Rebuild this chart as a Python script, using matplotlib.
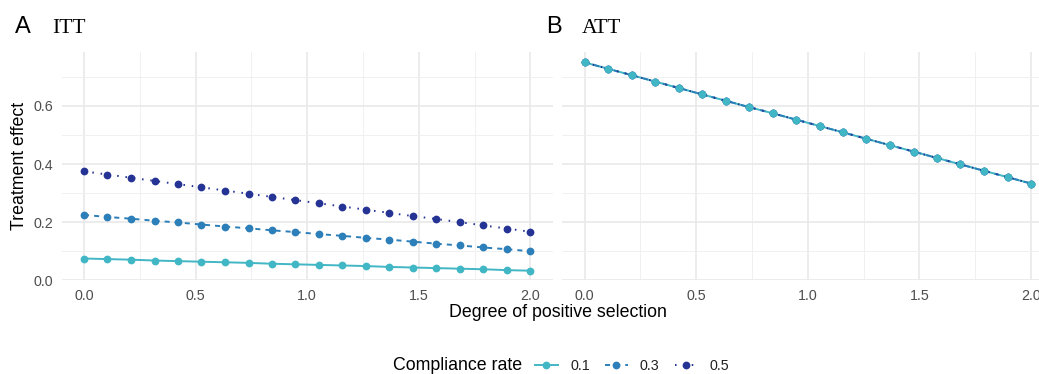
import matplotlib
matplotlib.use("Agg")
import matplotlib.pyplot as plt
from matplotlib.lines import Line2D
from matplotlib.ticker import MultipleLocator

plt.rcParams["font.family"] = ["Liberation Sans", "DejaVu Sans"]

# grau de selecao positiva (20 pontos de 0 a 2)
selecao = [0.000, 0.105, 0.211, 0.316, 0.421, 0.526, 0.632, 0.737, 0.842, 0.947,
           1.053, 1.158, 1.263, 1.368, 1.474, 1.579, 1.684, 1.789, 1.895, 2.000]

# ITT por taxa de adesao
itt_01 = [0.075, 0.073, 0.071, 0.068, 0.066, 0.064, 0.062, 0.060, 0.057, 0.055,
          0.053, 0.051, 0.049, 0.046, 0.044, 0.042, 0.040, 0.038, 0.035, 0.033]
itt_03 = [0.225, 0.218, 0.212, 0.205, 0.199, 0.192, 0.185, 0.179, 0.172, 0.166,
          0.159, 0.153, 0.146, 0.140, 0.133, 0.126, 0.120, 0.113, 0.107, 0.100]
itt_05 = [0.375, 0.364, 0.353, 0.342, 0.331, 0.320, 0.309, 0.298, 0.287, 0.276,
          0.265, 0.254, 0.243, 0.232, 0.221, 0.211, 0.200, 0.189, 0.178, 0.167]

# ATT (igual para todas as taxas)
att = [0.750, 0.728, 0.706, 0.684, 0.662, 0.640, 0.618, 0.596, 0.575, 0.553,
       0.531, 0.509, 0.487, 0.465, 0.443, 0.421, 0.399, 0.377, 0.355, 0.333]

taxas = ["0.1", "0.3", "0.5"]
cores = ["#41b6c4", "#2c7fb8", "#253494"]
estilos = ["-", (0, (2.6, 2.6)), (0, (0.8, 3.5))]

W, H = 1039, 374
fig = plt.figure(figsize=(W / 100, H / 100), dpi=100)

def px(x0, y0, x1, y1):
    return [x0 / W, 1 - y1 / H, (x1 - x0) / W, (y1 - y0) / H]

axA = fig.add_axes(px(61.7, 51.5, 552.7, 280.3))
axB = fig.add_axes(px(562.3, 51.5, 1053.3, 280.3))

def desenha(ax, series):
    for s, c, ls in zip(series, cores, estilos):
        ax.plot(selecao, s, color=c, linestyle=ls, linewidth=1.4, zorder=3)
    for s, c in reversed(list(zip(series, cores))):
        ax.plot(selecao, s, linestyle="none", marker="o", markersize=5.6,
                markeredgewidth=0, color=c, zorder=4)

    ax.set_xlim(-0.1, 2.1)
    ax.set_ylim(0, 0.7875)
    ax.xaxis.set_major_locator(MultipleLocator(0.5))
    ax.xaxis.set_minor_locator(MultipleLocator(0.25))
    ax.yaxis.set_major_locator(MultipleLocator(0.2))
    ax.yaxis.set_minor_locator(MultipleLocator(0.1))
    ax.grid(which="major", color="#e9e9e9", linewidth=1.2, zorder=0)
    ax.grid(which="minor", color="#f0f0f0", linewidth=0.7, zorder=0)
    ax.set_axisbelow(True)
    for sp in ax.spines.values():
        sp.set_visible(False)
    ax.tick_params(which="both", length=0, labelsize=10.3, labelcolor="#4d4d4d",
                   pad=6)
    ax.xaxis.set_major_formatter(lambda v, p: f"{v:.1f}")
    ax.yaxis.set_major_formatter(lambda v, p: f"{v:.1f}")

desenha(axA, [itt_01, itt_03, itt_05])
desenha(axB, [att, att, att])
axB.tick_params(labelleft=False)

# titulos e tags
fig.text(15 / W, 1 - 33 / H, "A", fontsize=17, va="baseline", ha="left")
fig.text(52 / W, 1 - 33 / H, "ITT", fontsize=15.5, family="Liberation Serif",
         va="baseline", ha="left")
fig.text(545.7 / W, 1 - 33 / H, "B", fontsize=17, va="baseline", ha="left")
fig.text(581.7 / W, 1 - 33 / H, "ATT", fontsize=15.5, family="Liberation Serif",
         va="baseline", ha="left")

fig.text(20 / W, 1 - 166 / H, "Treatment effect", fontsize=12.8,
         rotation=90, va="center", ha="center")
fig.text(557.5 / W, 1 - 317 / H, "Degree of positive selection", fontsize=12.8,
         va="baseline", ha="center")

# legenda
fig.text(393 / W, 1 - 366 / H, "Compliance rate", fontsize=12.8,
         va="center", ha="left")
handles = [Line2D([], [], color=c, linestyle=ls, linewidth=1.4, marker="o",
                  markersize=5.6, markeredgewidth=0)
           for c, ls in zip(cores, estilos)]
fig.legend(handles, taxas, loc="center left", bbox_to_anchor=(535 / W, 1 - 366 / H),
           ncol=3, frameon=False, borderpad=0, borderaxespad=0,
           handlelength=1.6, handletextpad=0.85, columnspacing=1.05,
           prop={"size": 10.3}, labelcolor="#222222")

fig.savefig("out.png", dpi=100)
